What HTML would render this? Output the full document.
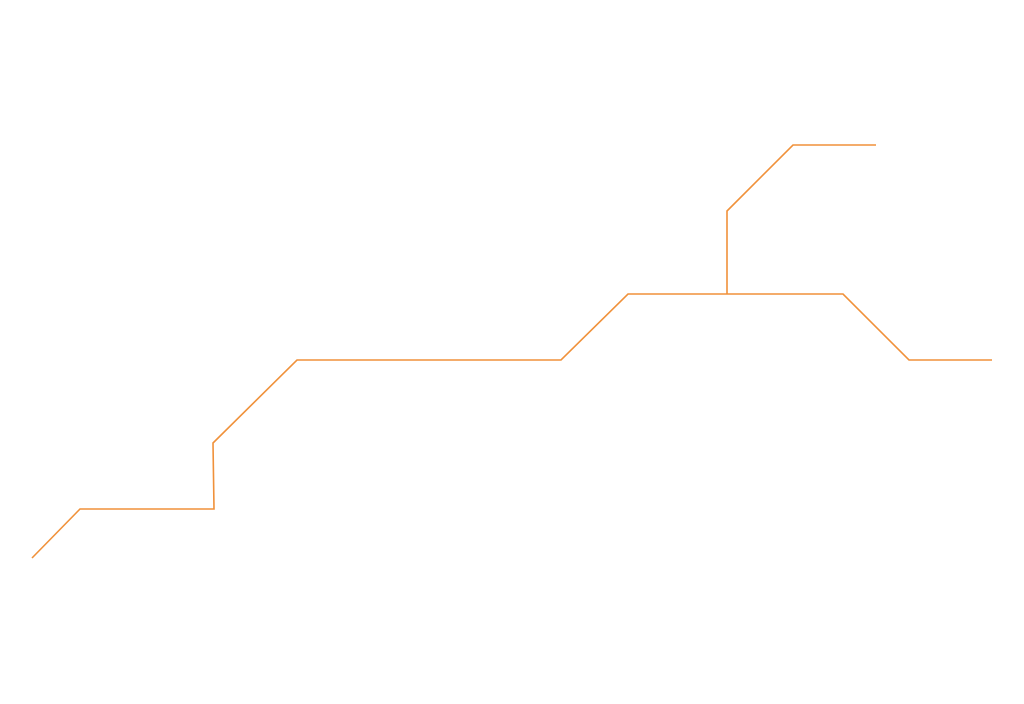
<!DOCTYPE html>
<html><head><style>html,body{margin:0;padding:0;background:#fff;width:1024px;height:704px;overflow:hidden}</style></head>
<body>
<svg width="1024" height="704" xmlns="http://www.w3.org/2000/svg">
<g fill="none" stroke="#f0913a" stroke-width="1.6" stroke-linejoin="miter">
<polyline points="32,558 80,509 214,509 213,443 297,360 561,360 628,294 843,294 909,360 992,360"/>
<polyline points="727,294 727,211 793,145 876,145"/>
</g>
</svg>
</body></html>
